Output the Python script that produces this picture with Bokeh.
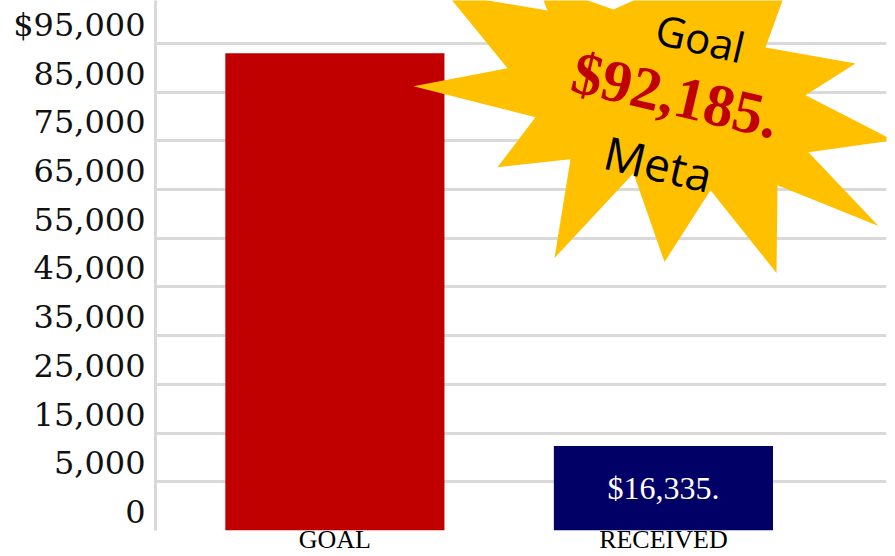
from bokeh.plotting import figure
from bokeh.models import Range1d, FixedTicker
from bokeh.core.properties import value
from bokeh.embed import file_html
from bokeh.resources import INLINE

# ---- data ----
categories = ["GOAL", "RECEIVED"]
amounts = [92185, 16335]
bar_colors = ["#C00000", "#000066"]
y_tick_labels = ["0", "5,000", "15,000", "25,000", "35,000", "45,000",
                 "55,000", "65,000", "75,000", "85,000", "$95,000"]
burst_word_top = "Goal"
burst_word_bottom = "Meta"

# ---- layout constants ----
W, H = 895, 556
ROW_PX = 48.8
FRAME_TOP, FRAME_BOTTOM = 0, 531
FRAME_H = FRAME_BOTTOM - FRAME_TOP
FRAME_LEFT, FRAME_RIGHT = 155, 886
ROW_SHIFT = 0.38

n_rows = len(y_tick_labels)
row_start = -ROW_SHIFT
row_end = row_start + FRAME_H / ROW_PX

p = figure(width=W, height=H, output_backend="svg", toolbar_location=None,
           x_range=Range1d(-0.546, 1.679), y_range=Range1d(row_start, row_end),
           min_border_left=FRAME_LEFT, min_border_right=W - FRAME_RIGHT,
           min_border_top=0, min_border_bottom=0)
p.extra_y_ranges = {"usd": Range1d(0, 102400),
                    "px": Range1d(FRAME_BOTTOM, FRAME_TOP)}
p.extra_x_ranges = {"px": Range1d(FRAME_LEFT, FRAME_RIGHT)}
p.outline_line_color = None
p.background_fill_color = "white"
p.border_fill_color = "white"

# grid: row boundaries
p.xgrid.visible = False
p.ygrid.ticker = FixedTicker(ticks=[k - ROW_SHIFT for k in range(n_rows)])
p.ygrid.grid_line_color = "#d9d9d9"
p.ygrid.grid_line_width = 3

# y axis (row labels)
yax = p.yaxis[0]
yax.ticker = FixedTicker(ticks=list(range(n_rows)))
yax.major_label_overrides = {i: lab for i, lab in enumerate(y_tick_labels)}
yax.axis_line_color = "#d9d9d9"
yax.axis_line_width = 3
yax.major_tick_line_color = None
yax.minor_tick_line_color = None
yax.major_tick_out = 0
yax.major_tick_in = 0
yax.minor_tick_out = 0
yax.major_label_standoff = 10
yax.major_label_text_font = "DejaVu Serif"
yax.major_label_text_font_size = "32px"
yax.major_label_text_color = "#111111"

# x axis (categories)
xax = p.xaxis[0]
xax.ticker = FixedTicker(ticks=list(range(len(categories))))
xax.major_label_overrides = {i: c for i, c in enumerate(categories)}
xax.axis_line_color = None
xax.major_tick_line_color = None
xax.minor_tick_line_color = None
xax.major_tick_out = 0
xax.major_tick_in = 0
xax.minor_tick_out = 0
xax.major_label_standoff = -6
xax.major_label_text_font = "Liberation Serif"
xax.major_label_text_font_size = "26px"
xax.major_label_text_color = "#000000"

# bars
xs = list(range(len(categories)))
p.vbar(x=xs, top=amounts, bottom=0, width=0.667, color=bar_colors,
       line_color=None, y_range_name="usd")

# received value label inside the bar
p.text(x=[1], y=[amounts[1] / 2], text=[f"${amounts[1]:,}."],
       text_color="white", text_font=value("Liberation Serif"),
       text_font_size="32px", text_align="center", text_baseline="middle",
       y_range_name="usd")

# explosion shape (decoration), outline relative to its centre in pixels
STAR_X, STAR_Y = 653, 130
star_dx = [-240, -146, -207, -106, -117, -40, 158, 112, 202, 152, 240, 155,
           225, 124, 123, 57, 11, -20, -99, -83, -156, -118]
star_dy = [-44, -62, -137, -120, -148, -121, -210, -83, -67, -35, 10, 22,
           96, 55, 143, 60, 132, 43, 128, 29, 37, -13]
p.patch([STAR_X + d for d in star_dx], [STAR_Y + d for d in star_dy],
        fill_color="#FFC000", line_color=None,
        x_range_name="px", y_range_name="px")

ANG = -0.23
p.text(x=[700], y=[37], text=[burst_word_top], angle=ANG,
       text_font=value("Open Sans"), text_font_size="42px", text_color="black",
       text_align="center", text_baseline="middle",
       x_range_name="px", y_range_name="px")
p.text(x=[675], y=[95], text=[f"${amounts[0]:,}."], angle=ANG,
       text_font=value("Liberation Serif"), text_font_size="60px",
       text_font_style="bold", text_color="#C00000",
       text_align="center", text_baseline="middle",
       x_range_name="px", y_range_name="px")
p.text(x=[658], y=[163], text=[burst_word_bottom], angle=ANG,
       text_font=value("Open Sans"), text_font_size="46px", text_color="black",
       text_align="center", text_baseline="middle",
       x_range_name="px", y_range_name="px")

open("out.html", "w").write(file_html(p, INLINE))
